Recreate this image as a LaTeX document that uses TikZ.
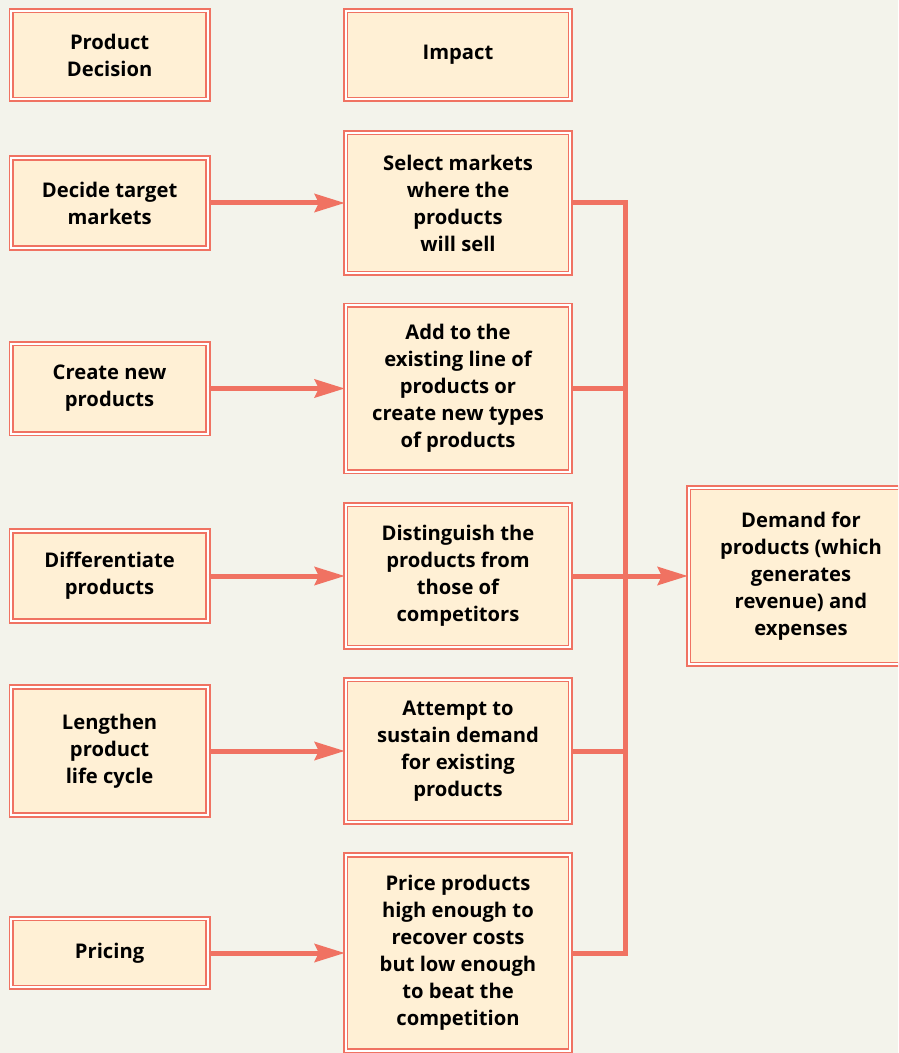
\documentclass[tikz,border=0pt]{standalone}
\usepackage{fontspec}
\setmainfont{Open Sans}
\usetikzlibrary{arrows.meta,positioning}
\definecolor{linered}{HTML}{F07262}
\definecolor{cream}{HTML}{FFF0D5}
\definecolor{paper}{HTML}{F3F3EB}

\begin{document}
\begin{tikzpicture}[
    x=0.5pt, y=-0.5pt,
    box/.style={draw=linered, double=white, double distance=1pt, line width=0.8pt, fill=cream, rectangle, align=center, inner sep=2pt, font=\fontsize{10.1}{13.5}\selectfont\bfseries},
    leftbox/.style={box, minimum width=98.4pt},
    midbox/.style={box, minimum width=112.4pt},
    link/.style={draw=linered, line width=2.5pt},
    arrow/.style={link, -{Stealth[length=15pt, width=9pt, inset=2pt]}},
]
    \fill [paper] (0,0) rectangle (898,1053);
    \useasboundingbox (0,0) rectangle (898,1053);
    \clip (0,0) rectangle (898,1053);

    % middle column
    \node [midbox, minimum height=44.4pt] (impact) at (458,55) {Impact};
    \node [midbox, minimum height=70.4pt] (sel) at (458,203) {Select markets\\where the\\products\\will sell};
    \node [midbox, minimum height=83pt] (add) at (458,388.5) {Add to the\\existing line of\\products or\\create new types\\of products};
    \node [midbox, minimum height=71.4pt] (dist) at (458,576) {Distinguish the\\products from\\those of\\competitors};
    \node [midbox, minimum height=71.4pt] (sust) at (458,751) {Attempt to\\sustain demand\\for existing\\products};
    \node [midbox, minimum height=98pt] (price) at (458,953) {Price products\\high enough to\\recover costs\\but low enough\\to beat the\\competition};

    % left column
    \node [leftbox, minimum height=44.4pt, left=68pt of impact] (decision) {Product\\Decision};
    \node [leftbox, minimum height=45pt, left=68pt of sel] (target) {Decide target\\markets};
    \node [leftbox, minimum height=45pt, left=68pt of add] (create) {Create new\\products};
    \node [leftbox, minimum height=45pt, left=68pt of dist] (differ) {Differentiate\\products};
    \node [leftbox, minimum height=64pt, left=68pt of sust] (lengthen) {Lengthen\\product\\life cycle};
    \node [leftbox, minimum height=34.4pt, left=68pt of price] (pricing) {Pricing};

    % result
    \node [midbox, minimum height=88.4pt] (demand) at (801,576) {Demand for\\products (which\\generates\\revenue) and\\expenses};

    \draw [arrow] (target) -- (sel);
    \draw [arrow] (create) -- (add);
    \draw [arrow] (differ) -- (dist);
    \draw [arrow] (lengthen) -- (sust);
    \draw [arrow] (pricing) -- (price);

    \coordinate (bus) at (625,0);
    \draw [link] (sel.east) -- (sel.east -| bus) -- (price.east -| bus) -- (price.east);
    \draw [link] (add.east) -- (add.east -| bus);
    \draw [link] (sust.east) -- (sust.east -| bus);
    \draw [arrow] (dist) -- (demand);

\end{tikzpicture}
\end{document}
